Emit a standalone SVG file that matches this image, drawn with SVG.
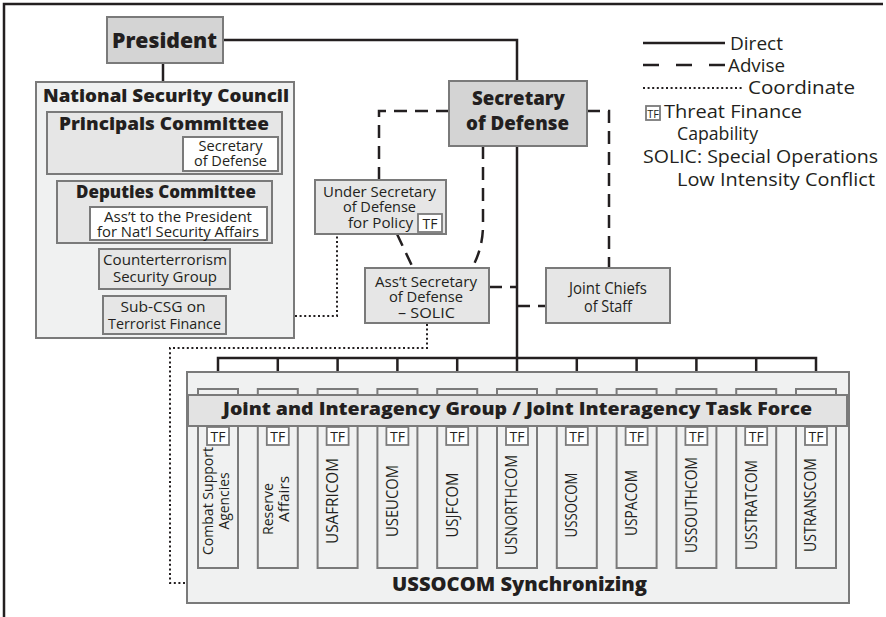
<svg xmlns="http://www.w3.org/2000/svg" width="886" height="617" viewBox="0 0 886 617">
<style>
text{font-family:"Open Sans",Lato,"DejaVu Sans",sans-serif;fill:#231f20}
.b{font-weight:800}
.box{stroke:#7a7a7a;stroke-width:2}
.g1{fill:#d4d4d4}
.g2{fill:#e6e6e6}
.g3{fill:#f0f1f1}
.w{fill:#ffffff}
.solid{fill:none;stroke:#231f20;stroke-width:2.5}
.dash{fill:none;stroke:#231f20;stroke-width:2.5;stroke-dasharray:13 8}
.dot{fill:none;stroke:#231f20;stroke-width:2;stroke-dasharray:2 2.6}
.c{text-anchor:middle}
.tf{fill:#fff;stroke:#7a7a7a;stroke-width:1.8}
</style>
<rect width="886" height="617" fill="#fff"/>
<path d="M4 617 V4 H883" fill="none" stroke="#231f20" stroke-width="2.5"/>

<g id="connectors">
<path class="solid" d="M223 40 H517 V81"/>
<path class="solid" d="M517 146 V389"/>
<path class="solid" d="M163 63 V82"/>
<path class="solid" d="M163 174 V181 M163 243 V249 M163 289 V296"/>
<path class="solid" d="M218 389 V358 H816 V389 M277.8 358 V389 M337.6 358 V389 M397.4 358 V389 M457.2 358 V389 M576.8 358 V389 M636.6 358 V389 M696.4 358 V389 M756.2 358 V389"/>
<path class="dash" d="M449 111 H379 V180"/>
<path class="dash" d="M587 111 H609 V268"/>
<path class="dash" d="M483 146 V225 Q483 248 472 268"/>
<path class="dash" d="M397 234 L413 268"/>
<path class="dash" d="M489 287 H517"/>
<path class="dash" d="M517 306 H546"/>
<path class="dot" d="M226 316 H337 V234"/>
<path class="dot" d="M427 324 V348 H170 V583 H187"/>
</g>

<g id="president">
<rect class="box g1" x="107" y="17" width="116" height="46"/>
<text class="b c" x="164.5" y="48" font-size="21" textLength="105" lengthAdjust="spacingAndGlyphs">President</text>
</g>

<g id="nsc">
<rect class="box g3" x="36" y="82" width="258" height="256"/>
<text class="b c" x="166" y="102" font-size="17" textLength="246" lengthAdjust="spacingAndGlyphs">National Security Council</text>
</g>

<g id="principals">
<rect class="box g2" x="47" y="112" width="235" height="62"/>
<text class="b c" x="164" y="130" font-size="17" textLength="210" lengthAdjust="spacingAndGlyphs">Principals Committee</text>
<rect class="box w" x="183" y="137" width="95" height="34"/>
<text class="c" x="230.5" y="151" font-size="14" textLength="64" lengthAdjust="spacingAndGlyphs">Secretary</text>
<text class="c" x="230.5" y="166" font-size="14" textLength="73" lengthAdjust="spacingAndGlyphs">of Defense</text>
</g>

<g id="deputies">
<rect class="box g2" x="57" y="181" width="215" height="62"/>
<text class="b c" x="166" y="198" font-size="17" textLength="180" lengthAdjust="spacingAndGlyphs">Deputies Committee</text>
<rect class="box w" x="90" y="207" width="177" height="33"/>
<text class="c" x="178" y="222" font-size="14.5" textLength="148" lengthAdjust="spacingAndGlyphs">Ass’t to the President</text>
<text class="c" x="178" y="237" font-size="14.5" textLength="162" lengthAdjust="spacingAndGlyphs">for Nat’l Security Affairs</text>
</g>

<g id="csg">
<rect class="box g2" x="99" y="249" width="131" height="40"/>
<text class="c" x="165" y="265" font-size="15" textLength="124" lengthAdjust="spacingAndGlyphs">Counterterrorism</text>
<text class="c" x="165" y="282" font-size="15" textLength="104" lengthAdjust="spacingAndGlyphs">Security Group</text>
</g>

<g id="subcsg">
<rect class="box g2" x="103" y="296" width="123" height="38"/>
<text class="c" x="163" y="312" font-size="15" textLength="85" lengthAdjust="spacingAndGlyphs">Sub-CSG on</text>
<text class="c" x="164.5" y="329" font-size="15" textLength="113" lengthAdjust="spacingAndGlyphs">Terrorist Finance</text>
</g>

<g id="secdef">
<rect class="box g1" x="449" y="81" width="138" height="65"/>
<text class="b c" x="518.5" y="105" font-size="18.5" textLength="93" lengthAdjust="spacingAndGlyphs">Secretary</text>
<text class="b c" x="517.5" y="130" font-size="18.5" textLength="103" lengthAdjust="spacingAndGlyphs">of Defense</text>
</g>

<g id="usdp">
<rect class="box g2" x="315" y="180" width="131" height="54"/>
<text class="c" x="379.5" y="197" font-size="14.5" textLength="113" lengthAdjust="spacingAndGlyphs">Under Secretary</text>
<text class="c" x="379.5" y="212" font-size="14.5" textLength="73" lengthAdjust="spacingAndGlyphs">of Defense</text>
<text class="c" x="380.5" y="228" font-size="14.5" textLength="65" lengthAdjust="spacingAndGlyphs">for Policy</text>
<rect class="tf" x="418" y="214" width="24" height="18"/>
<text class="c" x="430" y="229" font-size="14">TF</text>
</g>

<g id="asd">
<rect class="box g2" x="365" y="268" width="124" height="55"/>
<text class="c" x="426" y="287" font-size="14.5" textLength="102" lengthAdjust="spacingAndGlyphs">Ass’t Secretary</text>
<text class="c" x="426" y="302" font-size="14.5" textLength="74" lengthAdjust="spacingAndGlyphs">of Defense</text>
<text class="c" x="426.5" y="318" font-size="14.5" textLength="57" lengthAdjust="spacingAndGlyphs">– SOLIC</text>
</g>

<g id="jcs">
<rect class="box g2" x="546" y="268" width="124" height="55"/>
<text class="c" x="608" y="294" font-size="15.5" textLength="78" lengthAdjust="spacingAndGlyphs">Joint Chiefs</text>
<text class="c" x="608" y="312" font-size="15.5" textLength="48" lengthAdjust="spacingAndGlyphs">of Staff</text>
</g>

<g id="legend">
<path class="solid" d="M643 43 H725"/>
<text x="730" y="50" font-size="18" textLength="53" lengthAdjust="spacingAndGlyphs">Direct</text>
<path class="dash" d="M643 65 H725" style="stroke-dasharray:16 17"/>
<text x="728" y="72" font-size="18" textLength="57" lengthAdjust="spacingAndGlyphs">Advise</text>
<path class="dot" d="M643 88 H744"/>
<text x="748" y="94" font-size="18" textLength="107" lengthAdjust="spacingAndGlyphs">Coordinate</text>
<rect class="tf" x="646" y="106" width="14" height="14"/>
<text class="c" x="653" y="118" font-size="11">TF</text>
<text x="664" y="118" font-size="18" textLength="138" lengthAdjust="spacingAndGlyphs">Threat Finance</text>
<text x="677" y="140" font-size="18" textLength="81" lengthAdjust="spacingAndGlyphs">Capability</text>
<text x="643" y="163" font-size="18" textLength="235" lengthAdjust="spacingAndGlyphs">SOLIC: Special Operations</text>
<text x="677" y="186" font-size="18" textLength="198" lengthAdjust="spacingAndGlyphs">Low Intensity Conflict</text>
</g>

<g id="ussocom-group">
<rect class="box g3" x="187" y="372" width="662" height="231"/>
<text class="b c" x="519.5" y="591" font-size="19" textLength="255" lengthAdjust="spacingAndGlyphs">USSOCOM Synchronizing</text>
</g>

<g id="columns">
<rect class="box g3" x="198" y="389" width="40" height="179"/>
<rect class="box g3" x="257.8" y="389" width="40" height="179"/>
<rect class="box g3" x="317.6" y="389" width="40" height="179"/>
<rect class="box g3" x="377.4" y="389" width="40" height="179"/>
<rect class="box g3" x="437.2" y="389" width="40" height="179"/>
<rect class="box g3" x="497" y="389" width="40" height="179"/>
<rect class="box g3" x="556.8" y="389" width="40" height="179"/>
<rect class="box g3" x="616.6" y="389" width="40" height="179"/>
<rect class="box g3" x="676.4" y="389" width="40" height="179"/>
<rect class="box g3" x="736.2" y="389" width="40" height="179"/>
<rect class="box g3" x="796" y="389" width="40" height="179"/>
</g>

<g id="band">
<rect class="box" fill="#e3e3e3" x="188" y="395" width="659" height="31"/>
<text class="b c" x="517.5" y="415" font-size="18" textLength="589" lengthAdjust="spacingAndGlyphs">Joint and Interagency Group / Joint Interagency Task Force</text>
</g>

<g id="tf-boxes" font-size="14">
<g><rect class="tf" x="207" y="427" width="22" height="18"/><text class="c" x="218" y="442">TF</text></g>
<g><rect class="tf" x="266.8" y="427" width="22" height="18"/><text class="c" x="277.8" y="442">TF</text></g>
<g><rect class="tf" x="326.6" y="427" width="22" height="18"/><text class="c" x="337.6" y="442">TF</text></g>
<g><rect class="tf" x="386.4" y="427" width="22" height="18"/><text class="c" x="397.4" y="442">TF</text></g>
<g><rect class="tf" x="446.2" y="427" width="22" height="18"/><text class="c" x="457.2" y="442">TF</text></g>
<g><rect class="tf" x="506" y="427" width="22" height="18"/><text class="c" x="517" y="442">TF</text></g>
<g><rect class="tf" x="565.8" y="427" width="22" height="18"/><text class="c" x="576.8" y="442">TF</text></g>
<g><rect class="tf" x="625.6" y="427" width="22" height="18"/><text class="c" x="636.6" y="442">TF</text></g>
<g><rect class="tf" x="685.4" y="427" width="22" height="18"/><text class="c" x="696.4" y="442">TF</text></g>
<g><rect class="tf" x="745.2" y="427" width="22" height="18"/><text class="c" x="756.2" y="442">TF</text></g>
<g><rect class="tf" x="805" y="427" width="22" height="18"/><text class="c" x="816" y="442">TF</text></g>
</g>

<g id="column-labels" font-size="15.5">
<text class="c" transform="translate(213 501) rotate(-90)" font-size="14.5" textLength="108" lengthAdjust="spacingAndGlyphs">Combat Support</text>
<text class="c" transform="translate(229 501) rotate(-90)" font-size="14.5" textLength="57" lengthAdjust="spacingAndGlyphs">Agencies</text>
<text class="c" transform="translate(273 509) rotate(-90)" font-size="14.5" textLength="52" lengthAdjust="spacingAndGlyphs">Reserve</text>
<text class="c" transform="translate(289 499) rotate(-90)" font-size="14.5" textLength="46" lengthAdjust="spacingAndGlyphs">Affairs</text>
<text class="c" transform="translate(338 501) rotate(-90)" textLength="86" lengthAdjust="spacingAndGlyphs">USAFRICOM</text>
<text class="c" transform="translate(397.5 501) rotate(-90)" textLength="72" lengthAdjust="spacingAndGlyphs">USEUCOM</text>
<text class="c" transform="translate(457.5 505) rotate(-90)" textLength="65" lengthAdjust="spacingAndGlyphs">USJFCOM</text>
<text class="c" transform="translate(517 505) rotate(-90)" textLength="100" lengthAdjust="spacingAndGlyphs">USNORTHCOM</text>
<text class="c" transform="translate(577 505) rotate(-90)" textLength="65" lengthAdjust="spacingAndGlyphs">USSOCOM</text>
<text class="c" transform="translate(637 503) rotate(-90)" textLength="66" lengthAdjust="spacingAndGlyphs">USPACOM</text>
<text class="c" transform="translate(696.5 505) rotate(-90)" textLength="96" lengthAdjust="spacingAndGlyphs">USSOUTHCOM</text>
<text class="c" transform="translate(756.5 505) rotate(-90)" textLength="90" lengthAdjust="spacingAndGlyphs">USSTRATCOM</text>
<text class="c" transform="translate(816 505) rotate(-90)" textLength="94" lengthAdjust="spacingAndGlyphs">USTRANSCOM</text>
</g>
</svg>
